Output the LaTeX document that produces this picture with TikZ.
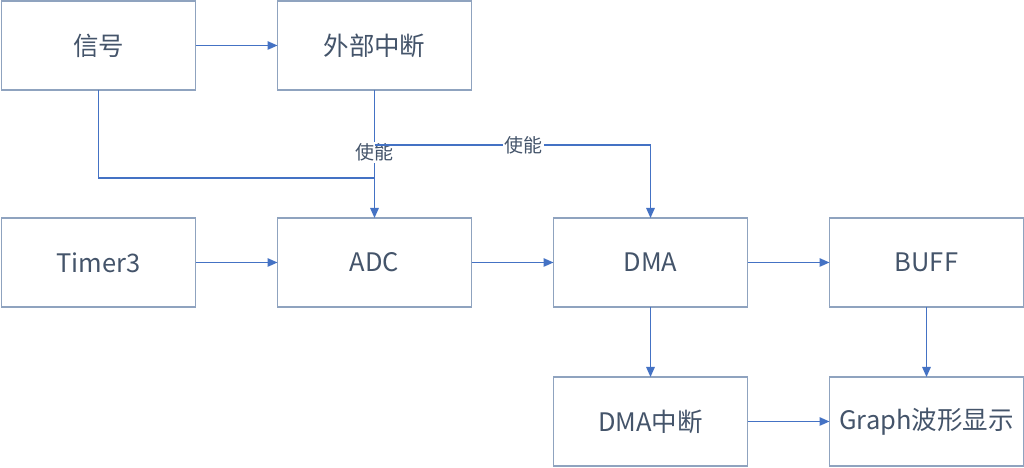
\documentclass[tikz,border=0pt]{standalone}
\usepackage{fontspec}
\setmainfont{Noto Sans CJK SC}
\usetikzlibrary{positioning,arrows.meta,calc}
\definecolor{boxline}{HTML}{8FA3BF}
\definecolor{arrowblue}{HTML}{4472C4}
\definecolor{textgrey}{HTML}{44546A}

\begin{document}
\begin{tikzpicture}[
  >=Triangle,
  blk/.style={draw=boxline,line width=0.8pt,fill=white,text=textgrey,
              font=\fontsize{14.5}{17}\selectfont,outer sep=0pt,
              minimum width=3.88cm,minimum height=1.78cm,inner sep=0pt},
  arr/.style={-{Triangle[length=0.2cm,width=0.17cm]},draw=arrowblue,line width=0.8pt},
  lin/.style={draw=arrowblue,line width=0.8pt},
  lbl/.style={fill=white,text=textgrey,font=\fontsize{10.8}{13}\selectfont,inner sep=1pt},
]
  \useasboundingbox (0,0) rectangle (20.48,-9.36);

  \node[blk] (sig) at (1.97,-0.91) {信号};
  \node[blk,right=1.64cm of sig] (ext) {外部中断};

  \node[blk,below=2.56cm of sig] (tim)  {Timer3};
  \node[blk,right=1.64cm of tim] (adc)  {ADC};
  \node[blk,right=1.64cm of adc] (dma)  {DMA};
  \node[blk,right=1.64cm of dma] (buff) {BUFF};

  \node[blk,below=1.4cm of dma]   (dmaint) {DMA中断};
  \node[blk,right=1.64cm of dmaint] (graph) {Graph波形显示};

  % junction points of the enable lines
  \coordinate (en)  at ($(ext.south)+(0,-1.1)$);
  \coordinate (sj)  at ($(sig.south)+(0,-1.76)$);

  \draw[arr] (sig) -- (ext);
  \draw[lin] (sig.south) |- (sj -| ext.south);
  \draw[arr] (ext.south) -- (adc.north)
    node[lbl,pos=0.49] {使能};
  \draw[arr] (en) -| (dma.north)
    node[lbl,pos=0.27] {使能};

  \draw[arr] (tim)  -- (adc);
  \draw[arr] (adc)  -- (dma);
  \draw[arr] (dma)  -- (buff);
  \draw[arr] (dma)  -- (dmaint);
  \draw[arr] (buff) -- (graph);
  \draw[arr] (dmaint) -- (graph);
\end{tikzpicture}
\end{document}
